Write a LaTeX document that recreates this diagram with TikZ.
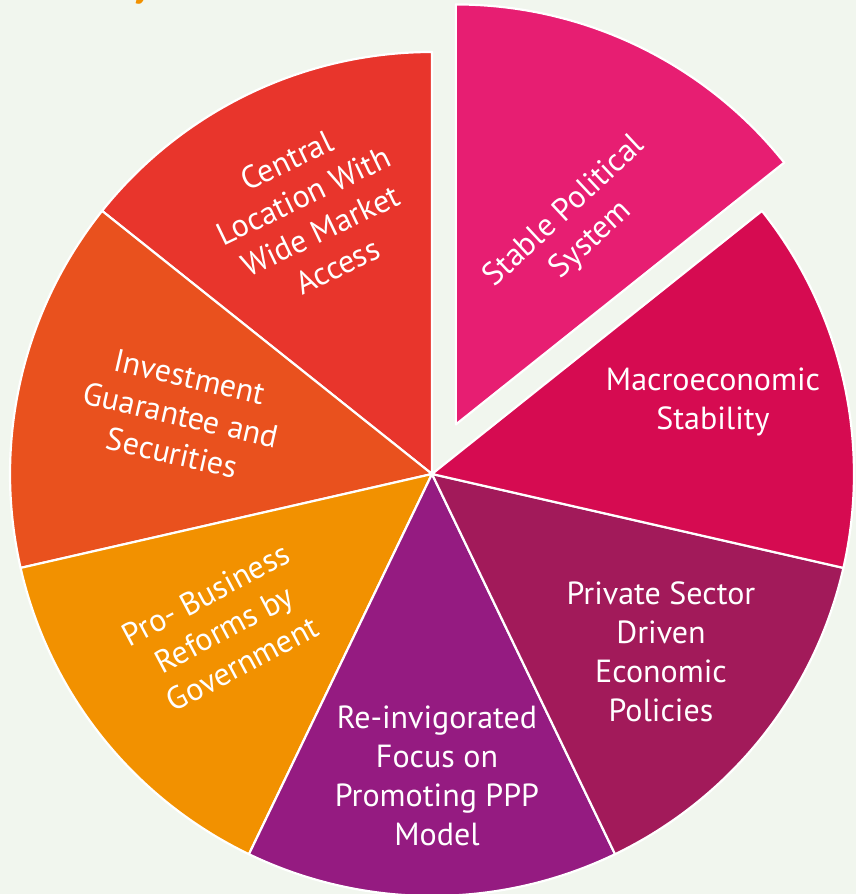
\documentclass[tikz,border=0pt]{standalone}
\usepackage{fontspec}
\setmainfont{PT Sans}
\definecolor{bgpale}{HTML}{F1F6EE}
\definecolor{cCentral}{HTML}{E8352C}
\definecolor{cInvest}{HTML}{E9511E}
\definecolor{cReform}{HTML}{F29100}
\definecolor{cFocus}{HTML}{951B81}
\definecolor{cPrivate}{HTML}{A21A5A}
\definecolor{cMacro}{HTML}{D60B51}
\definecolor{cStable}{HTML}{E71E72}
\begin{document}
\begin{tikzpicture}[x=1pt,y=1pt,
				slice/.style={draw=white, line width=2.2pt, line join=round},
				lbl/.style={text=white, align=center, inner sep=0pt,
					font=\fontsize{32}{39}\selectfont}]
\fill[bgpale] (0,0) rectangle (856,894);
\useasboundingbox (0,0) rectangle (856,894);
\coordinate (C) at (432,420);
\coordinate (P) at ([shift={(64.29:55)}]C);
\filldraw[slice, fill=cCentral] (C) -- ++(90:422) arc (90:141.43:422) -- cycle;
\filldraw[slice, fill=cInvest] (C) -- ++(141.43:422) arc (141.43:192.86:422) -- cycle;
\filldraw[slice, fill=cReform] (C) -- ++(192.86:422) arc (192.86:244.29:422) -- cycle;
\filldraw[slice, fill=cFocus] (C) -- ++(244.29:422) arc (244.29:295.71:422) -- cycle;
\filldraw[slice, fill=cPrivate] (C) -- ++(295.71:422) arc (295.71:347.14:422) -- cycle;
\filldraw[slice, fill=cMacro] (C) -- ++(-12.86:422) arc (-12.86:38.57:422) -- cycle;
\filldraw[slice, fill=cStable] (P) -- ++(38.57:420) arc (38.57:90:420) -- cycle;
\node[lbl, rotate=25.7] (central) at (312,681) {Central\\Location With\\Wide Market\\Access};
\node[lbl, rotate=-12.86] (invest) at (181,479) {Investment\\Guarantee and\\Securities};
\node[lbl, rotate=28] (reform) at (224,265) {Pro- Business\\Reforms by\\Government};
\node[lbl] (focus) at (437,118) {Re-invigorated\\Focus on\\Promoting PPP\\Model};
\node[lbl] (private) at (661,242) {Private Sector\\Driven\\Economic\\Policies};
\node[lbl] (macro) at (713,492) {Macroeconomic\\Stability};
\node[lbl, rotate=43] (stable) at (578,668) {Stable Political\\System};
\node[anchor=base west, text=cReform, inner sep=0pt,
	font=\fontsize{38}{40}\selectfont\bfseries] (title) at (133,897) {y};
\end{tikzpicture}
\end{document}
